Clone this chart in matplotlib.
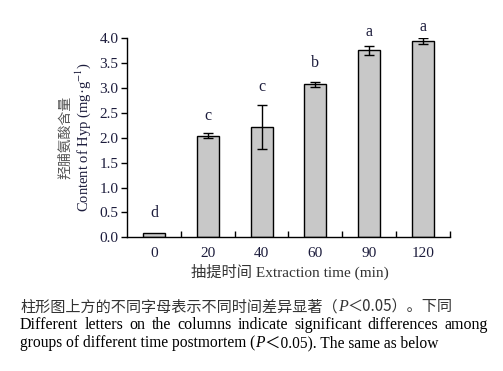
import numpy as np
import matplotlib
matplotlib.use('Agg')
import matplotlib.pyplot as plt

# data
times = ['0', '20', '40', '60', '90', '120']
hyp = [0.08, 2.04, 2.21, 3.08, 3.76, 3.94]
hyp_err = [0.0, 0.05, 0.44, 0.05, 0.09, 0.06]
letters = ['d', 'c', 'c', 'b', 'a', 'a']

SERIF = ['Liberation Serif', 'DejaVu Serif']
CJK = ['Noto Sans CJK SC', 'DejaVu Sans']
MIX = ['Liberation Serif', 'Noto Sans CJK SC']
NAVY = '#1c1c3c'
W, H = 503, 371

plt.rcParams['font.family'] = SERIF
plt.rcParams['font.size'] = 10.5
plt.rcParams['mathtext.fontset'] = 'stix'

fig = plt.figure(figsize=(5.03, 3.71), dpi=100)
ax = fig.add_axes([0.2525, 0.3604, 0.6421, 0.5364])

x = np.arange(len(times))
ax.bar(x, hyp, width=0.41, color='#c8c8c8', edgecolor='black', linewidth=1.0)
err_x = [xi for xi, e in zip(x, hyp_err) if e > 0]
err_y = [h for h, e in zip(hyp, hyp_err) if e > 0]
err_e = [e for e in hyp_err if e > 0]
ax.errorbar(err_x, err_y, yerr=err_e, fmt='none', ecolor='black',
            elinewidth=1.0, capsize=3.5, capthick=1.0)

# significance letters, small gap above error bar tops
gap_px = [12, 9, 10, 11, 6, 3]
for xi, h, e, lab, g in zip(x, hyp, hyp_err, letters, gap_px):
    ax.annotate(lab, (xi, h + e), xytext=(0, g * 0.72), textcoords='offset points',
                ha='center', va='bottom', color=NAVY, fontsize=11.5,
                annotation_clip=False)

ax.set_xlim(-0.5, len(times) - 0.5)
ax.set_ylim(0, 4.0)
ax.set_yticks(np.arange(0, 4.01, 0.5))
ax.set_yticklabels(['%.1f' % v for v in np.arange(0, 4.01, 0.5)], color=NAVY, fontsize=11)
ax.set_xticks(x)
ax.set_xticklabels(times, color=NAVY, fontsize=11)
ax.set_xticks(np.arange(0.5, len(times) - 0.4, 1.0), minor=True)
ax.tick_params(axis='x', which='major', length=0, pad=7)
ax.tick_params(axis='x', which='minor', direction='in', length=4, width=1)
ax.tick_params(axis='y', direction='out', length=4, width=1, pad=2)
ax.spines['top'].set_visible(False)
ax.spines['right'].set_visible(False)
for s in ['left', 'bottom']:
    ax.spines[s].set_linewidth(1.0)

# y label, two lines
fig.text(65 / W, 1 - 137 / H, '羟脯氨酸含量', rotation=90, ha='center', va='center',
         family=CJK, fontsize=10, color='#555555')
fig.text(83 / W, 1 - 137 / H, 'Content of Hyp (mg·g$^{-1}$)', rotation=90,
         ha='center', va='center', color=NAVY, fontsize=10.5)

# x label
fig.text(290 / W, 1 - 272 / H, '抽提时间 Extraction time (min)', ha='center', va='center',
         family=MIX, fontsize=11, color='#333333')

fig.canvas.draw()
renderer = fig.canvas.get_renderer()


def chain_text(x0, y0, pieces):
    '''Write text pieces one after another on one line'''
    pos = x0
    for txt, kw in pieces:
        t = fig.text(pos / W, 1 - y0 / H, txt, ha='left', va='center', **kw)
        pos += t.get_window_extent(renderer).width
    return pos


# caption
cn = dict(family=CJK, fontsize=10.9, color='#333333')
it = dict(family=SERIF, style='italic', fontsize=11.5, color='#333333')
chain_text(20, 307, [('柱形图上方的不同字母表示不同时间差异显著（', cn),
                     ('P', it), ('＜0.05）。下同', cn)])

line2 = 'Different letters on the columns indicate significant differences among'.split()
arts = [fig.text(0, 1 - 325 / H, w, ha='left', va='center', family=SERIF,
                 fontsize=11.5, color='black') for w in line2]
widths = [a.get_window_extent(renderer).width for a in arts]
left, right = 20, 488
gap = (right - left - sum(widths)) / (len(widths) - 1)
pos = left
for a, w in zip(arts, widths):
    a.set_x(pos / W)
    pos += w + gap

en = dict(family=MIX, fontsize=11.2, color='black')
chain_text(20, 343, [('groups of different time postmortem (', en),
                     ('P', dict(en, style='italic', family=SERIF)),
                     ('＜0.05). The same as below', en)])

fig.savefig('out.png', dpi=100)
